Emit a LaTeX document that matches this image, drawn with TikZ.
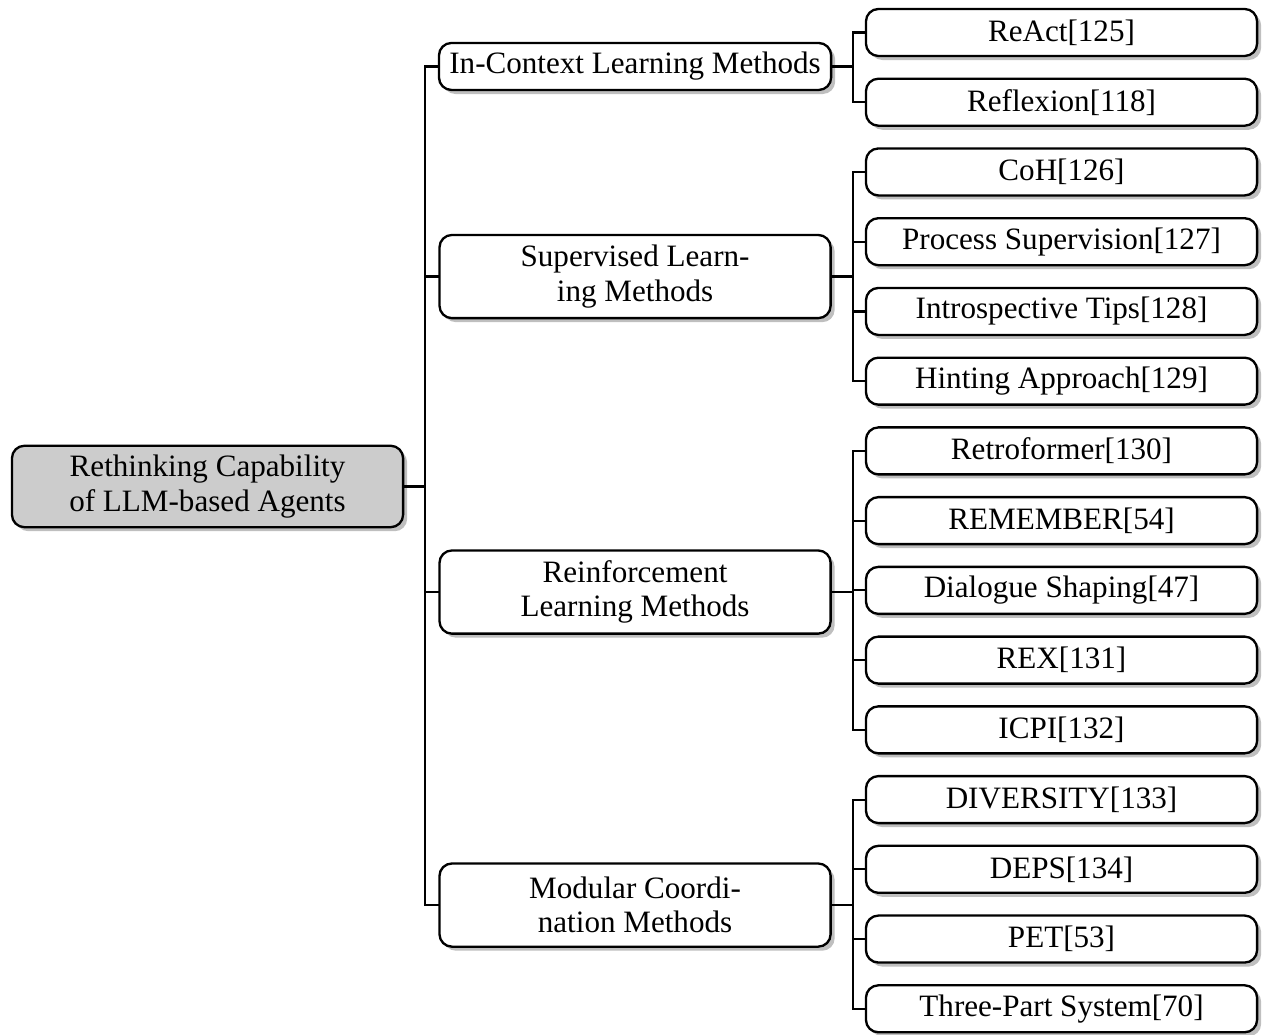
\documentclass[tikz,border=0pt]{standalone}
\usepackage{fontspec}
\setmainfont{Liberation Serif}
\usetikzlibrary{
  positioning,
  shadows
}

\begin{document}
\begin{tikzpicture}[
  topic/.style={rectangle, draw, line width=0.75pt, rounded corners=4pt, inner ysep=1.5pt, outer sep=0pt, minimum width=4.42cm, minimum height=0.92cm, align=center, font=\fontsize{10}{11}\selectfont, fill=black!20, drop shadow={shadow xshift=1.3pt, shadow yshift=-1.3pt, fill=black!25, opacity=1}},
  method/.style={rectangle, draw, line width=0.75pt, rounded corners=4pt, inner ysep=1.5pt, outer sep=0pt, minimum width=4.42cm, minimum height=0.531cm, align=center, font=\fontsize{10}{11}\selectfont, fill=white, drop shadow={shadow xshift=1.3pt, shadow yshift=-1.3pt, fill=black!25, opacity=1}},
  work/.style={method},
  link/.style={line width=0.7pt},
]
\useasboundingbox (0,0) rectangle (14.283,-11.684);

% Root
\node[topic] (root) at (2.345,-5.497) {Rethinking Capability\\of LLM-based Agents};

% Method families
\node[method] (m1) at (7.176,-0.751) {In-Context Learning Methods};
\node[method, minimum height=0.94cm] (m2) at (7.176,-3.125) {Supervised Learn-\\ing Methods};
\node[method, minimum height=0.94cm] (m3) at (7.176,-6.69) {Reinforcement\\Learning Methods};
\node[method, minimum height=0.94cm] (m4) at (7.176,-10.227) {Modular Coordi-\\nation Methods};

% Works
\node[work] (w1) at (11.995,-0.367) {ReAct[125]};
\node[work, below=0.257cm of w1] (w2) {Reflexion[118]};
\node[work, below=0.257cm of w2] (w3) {CoH[126]};
\node[work, below=0.257cm of w3] (w4) {Process Supervision[127]};
\node[work, below=0.257cm of w4] (w5) {Introspective Tips[128]};
\node[work, below=0.257cm of w5] (w6) {Hinting Approach[129]};
\node[work, below=0.257cm of w6] (w7) {Retroformer[130]};
\node[work, below=0.257cm of w7] (w8) {REMEMBER[54]};
\node[work, below=0.257cm of w8] (w9) {Dialogue Shaping[47]};
\node[work, below=0.257cm of w9] (w10) {REX[131]};
\node[work, below=0.257cm of w10] (w11) {ICPI[132]};
\node[work, below=0.257cm of w11] (w12) {DIVERSITY[133]};
\node[work, below=0.257cm of w12] (w13) {DEPS[134]};
\node[work, below=0.257cm of w13] (w14) {PET[53]};
\node[work, below=0.257cm of w14] (w15) {Three-Part System[70]};

% Root to families
\draw[link] (root.east) -- ++(0.25,0) |- (m1.west);
\draw[link] (root.east) -- ++(0.25,0) |- (m2.west);
\draw[link] (root.east) -- ++(0.25,0) |- (m3.west);
\draw[link] (root.east) -- ++(0.25,0) |- (m4.west);

% Families to works
\draw[link] (m1.east) -- ++(0.25,0) |- (w1.west);
\draw[link] (m1.east) -- ++(0.25,0) |- (w2.west);
\draw[link] (m2.east) -- ++(0.25,0) |- (w3.west);
\draw[link] (m2.east) -- ++(0.25,0) |- (w4.west);
\draw[link] (m2.east) -- ++(0.25,0) |- (w5.west);
\draw[link] (m2.east) -- ++(0.25,0) |- (w6.west);
\draw[link] (m3.east) -- ++(0.25,0) |- (w7.west);
\draw[link] (m3.east) -- ++(0.25,0) |- (w8.west);
\draw[link] (m3.east) -- ++(0.25,0) |- (w9.west);
\draw[link] (m3.east) -- ++(0.25,0) |- (w10.west);
\draw[link] (m3.east) -- ++(0.25,0) |- (w11.west);
\draw[link] (m4.east) -- ++(0.25,0) |- (w12.west);
\draw[link] (m4.east) -- ++(0.25,0) |- (w13.west);
\draw[link] (m4.east) -- ++(0.25,0) |- (w14.west);
\draw[link] (m4.east) -- ++(0.25,0) |- (w15.west);
\end{tikzpicture}
\end{document}
